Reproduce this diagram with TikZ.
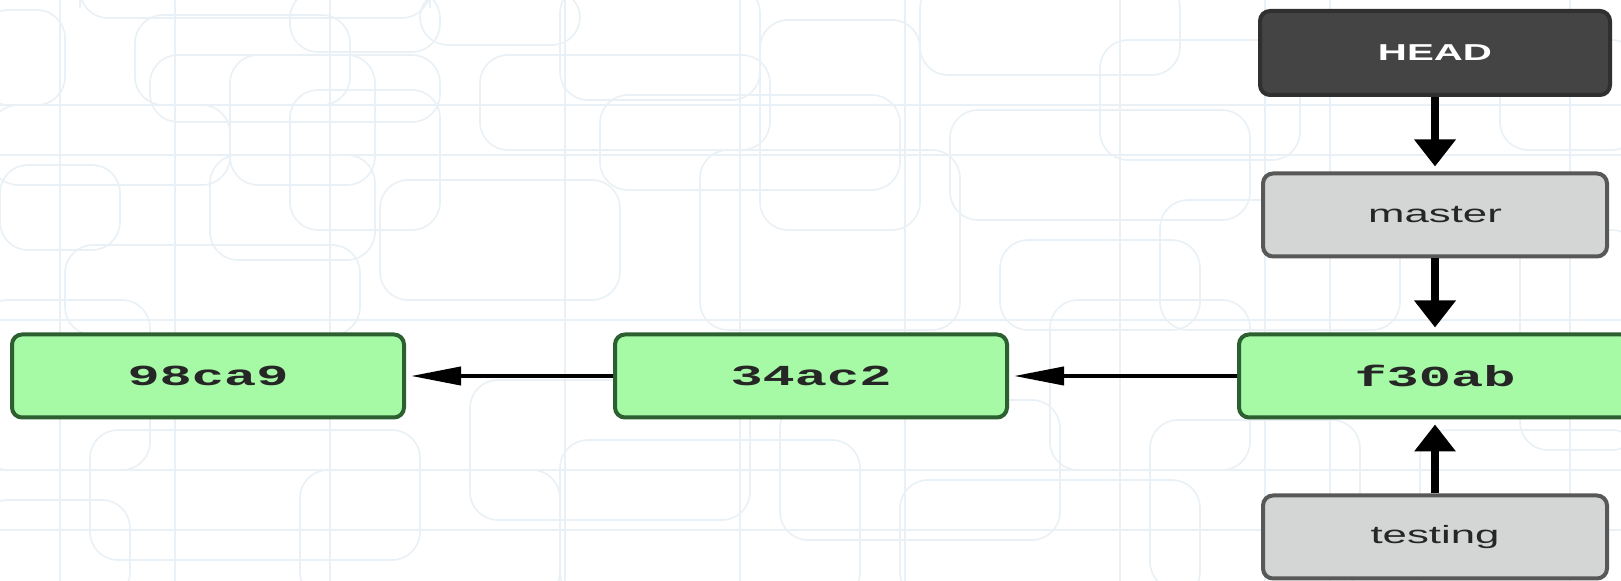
\documentclass[tikz,border=0pt]{standalone}
\usepackage{fontspec}
\usepackage{tikz}
\usetikzlibrary{arrows.meta}

\newfontfamily\reffont[FakeStretch = 1.75]{Liberation Sans}
\newfontfamily\hashfont[FakeStretch = 1.85]{Liberation Mono}

\definecolor{commitfill}{RGB}{166,250,166}
\definecolor{commitline}{RGB}{44,96,48}
\definecolor{headfill}{RGB}{68,68,68}
\definecolor{headline}{RGB}{48,48,48}
\definecolor{branchfill}{RGB}{211,214,213}
\definecolor{branchline}{RGB}{88,88,88}
\definecolor{gridline}{RGB}{233,241,246}

\begin{document}
\begin{tikzpicture}[x = 0.5pt, y = -0.5pt,
    commit/.style = {shape = rectangle, draw = commitline, fill = commitfill, line width = 2pt,
        rounded corners = 5pt, minimum width = 196pt, minimum height = 41.5pt,
        text = black!85, font = \hashfont\bfseries\fontsize{14.5}{16}\selectfont},
    branch/.style = {shape = rectangle, draw = branchline, fill = branchfill, line width = 2pt,
        rounded corners = 5pt, minimum width = 172pt, minimum height = 41.5pt,
        text = black!85, font = \reffont\fontsize{12.5}{14}\selectfont},
    headref/.style = {branch, draw = headline, fill = headfill, text = white,
        font = \reffont\bfseries\fontsize{11.5}{13}\selectfont,
        minimum width = 175pt, minimum height = 42pt},
    vlink/.style = {line width = 4pt, shorten > = 2.5pt,
        -{Triangle[length = 13.5pt, width = 20pt]}},
    hlink/.style = {line width = 2pt, shorten > = 2.5pt,
        -{Triangle[length = 25pt, width = 9pt]}}]
    \clip (0,0) rectangle (1621,581);
    \fill [white] (0,0) rectangle (1621,581);
    % faint rounded boxes in the background
    \foreach \a/\b/\c/\d in {-20/10/65/105, 80/-20/430/18, 135/15/350/105, 150/55/440/122,
        230/55/375/185, -10/105/230/185, 290/90/440/230, 420/-10/580/45, 290/-10/440/52,
        0/165/120/250, 65/245/360/335, 210/155/375/260, 480/55/770/150, 560/-15/760/100,
        600/95/900/190, 700/150/960/330, 760/20/920/230, 920/-20/1180/75, 950/110/1250/220,
        1100/40/1300/160, 1160/200/1400/330, 1500/40/1640/150, 1520/230/1640/450,
        -20/300/150/470, 90/430/420/560, 300/470/560/600, 470/380/750/520, 560/440/860/600,
        780/400/1060/540, 900/480/1200/600, 1050/300/1250/470, 1150/420/1360/590,
        1420/430/1640/600, 380/180/620/300, 1000/240/1200/330, -20/500/130/600} {
        \draw [gridline, line width = 0.8pt, rounded corners = 14pt] (\a,\b) rectangle (\c,\d);
    }
    \foreach \x in {60, 175, 330, 565, 740, 905, 1120, 1265, 1330, 1570} {
        \draw [gridline, line width = 0.7pt] (\x,0) -- (\x,581);
    }
    \foreach \y in {105, 155, 320, 470, 530} {
        \draw [gridline, line width = 0.7pt] (0,\y) -- (1621,\y);
    }

    % commits
    \node [commit] (C0) at (208,376) {98ca9};
    \node [commit] (C1) at (811,376) {34ac2};
    \node [commit] (C2) at (1435,376) {f30ab};

    % refs
    \node [headref] (HEAD) at (1435,53) {HEAD};
    \node [branch] (master) at (1435,215) {master};
    \node [branch] (testing) at (1435,537) {testing};

    \draw [hlink] (C1) -- (C0);
    \draw [hlink] (C2) -- (C1);
    \draw [vlink] (HEAD) -- (master);
    \draw [vlink] (master) -- (C2);
    \draw [vlink] (testing) -- (C2);
\end{tikzpicture}
\end{document}
